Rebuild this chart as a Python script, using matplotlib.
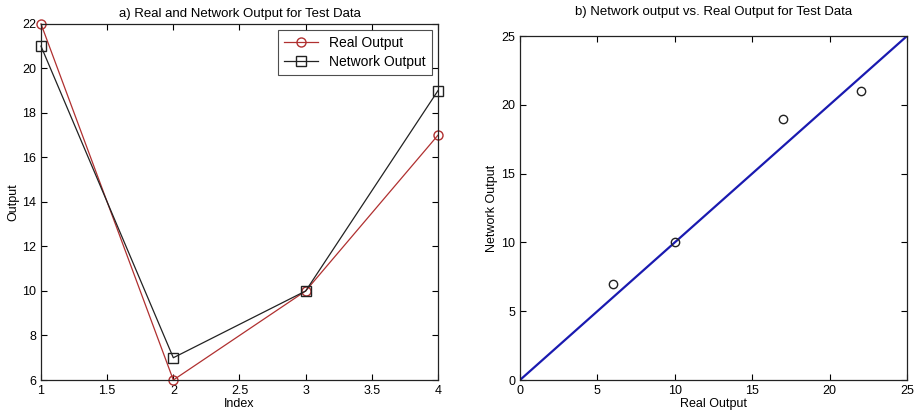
import matplotlib
matplotlib.use("Agg")
import matplotlib.pyplot as plt
import numpy as np

# Data
index = [1, 2, 3, 4]
real_output = [22, 6, 10, 17]
network_output = [21, 7, 10, 19]
fit_line = [0, 25]

plt.rcParams['font.family'] = ['Liberation Sans', 'DejaVu Sans']
plt.rcParams['font.size'] = 9


def matlab_axes(ax):
    ax.tick_params(direction='in', top=True, right=True, length=4, width=0.8)
    for s in ax.spines.values():
        s.set_linewidth(0.9)
        s.set_color('#222222')


def main():
    fig = plt.figure(figsize=(9.19, 4.2), dpi=100)

    # a) Real and network output
    ax1 = fig.add_axes([0.0446, 0.0952, 0.432, 0.848])
    ax1.plot(index, real_output, color='#b03030', marker='o', markerfacecolor='none',
             markersize=6.5, linewidth=0.9, label='Real Output', clip_on=False)
    ax1.plot(index, network_output, color='#222222', marker='s', markerfacecolor='none',
             markersize=6.5, linewidth=0.9, label='Network Output', clip_on=False)
    ax1.set_xlim(1, 4)
    ax1.set_ylim(6, 22)
    ax1.set_xticks(np.arange(1, 4.01, 0.5))
    ax1.set_xticklabels(['1', '1.5', '2', '2.5', '3', '3.5', '4'])
    ax1.set_yticks(range(6, 23, 2))
    ax1.set_xlabel('Index', labelpad=1)
    ax1.set_ylabel('Output', labelpad=2)
    ax1.set_title('a) Real and Network Output for Test Data', fontsize=9.5, pad=5)
    leg = ax1.legend(loc='upper right', fancybox=False, edgecolor='#222222',
                     borderaxespad=0.45, handlelength=2.4, fontsize=10,
                     borderpad=0.45, labelspacing=0.35)
    leg.get_frame().set_linewidth(0.8)
    matlab_axes(ax1)

    # b) Network output vs real output
    ax2 = fig.add_axes([0.5658, 0.0952, 0.4211, 0.819])
    ax2.plot(fit_line, fit_line, color='#1a1ab0', linewidth=1.6)
    ax2.plot(real_output, network_output, linestyle='none', marker='o',
             markerfacecolor='none', markeredgecolor='#222222', markersize=6)
    ax2.set_xlim(0, 25)
    ax2.set_ylim(0, 25)
    ax2.set_xticks(range(0, 26, 5))
    ax2.set_yticks(range(0, 26, 5))
    ax2.set_xlabel('Real Output', labelpad=1)
    ax2.set_ylabel('Network Output', labelpad=2)
    ax2.set_title('b) Network output vs. Real Output for Test Data', fontsize=9.5, pad=15)
    matlab_axes(ax2)

    fig.savefig('out.png', dpi=100)


if __name__ == "__main__":
    main()
